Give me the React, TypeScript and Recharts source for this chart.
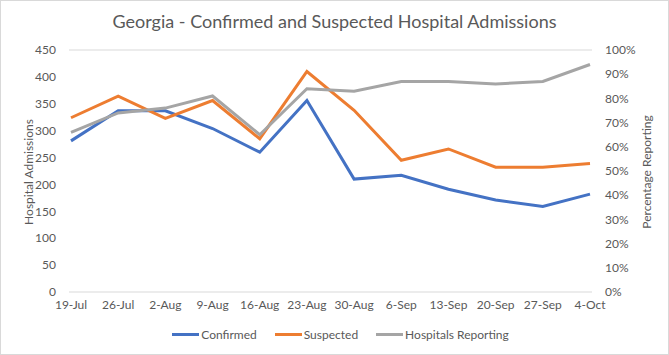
import React from 'react'
import { LineChart, Line, CartesianGrid, XAxis, YAxis, Legend } from 'recharts'

const WEEKS = ['19-Jul', '26-Jul', '2-Aug', '9-Aug', '16-Aug', '23-Aug', '30-Aug', '6-Sep', '13-Sep', '20-Sep', '27-Sep', '4-Oct']
const CONFIRMED = [281, 337, 337, 304, 260, 356, 210, 217, 191, 171, 159, 182]
const SUSPECTED = [324, 364, 323, 356, 285, 410, 338, 245, 266, 232, 232, 239]
const REPORTING = [66, 74, 76, 81, 65, 84, 83, 87, 87, 86, 87, 94]

const LEFT_TICKS = [0, 50, 100, 150, 200, 250, 300, 350, 400, 450]
const RIGHT_TICKS = [0, 10, 20, 30, 40, 50, 60, 70, 80, 90, 100]

const SERIES = [
  { key: 'confirmed', name: 'Confirmed', color: '#4472C4', axis: 'left' },
  { key: 'suspected', name: 'Suspected', color: '#ED7D31', axis: 'left' },
  { key: 'reporting', name: 'Hospitals Reporting', color: '#A5A5A5', axis: 'right' },
]

const data = WEEKS.map((week, i) => ({
  week,
  confirmed: CONFIRMED[i],
  suspected: SUSPECTED[i],
  reporting: REPORTING[i],
}))

const FONT = 'Lato, "Liberation Sans", sans-serif'
const TEXT = '#595959'
const TICK = { fill: TEXT, fontSize: 12, fontFamily: FONT }

const axisTitle = (text: string, x: number) => () => (
  <text
    x={x}
    y={171}
    transform={`rotate(-90 ${x} 171)`}
    textAnchor="middle"
    dominantBaseline="central"
    fill={TEXT}
    fontSize={12}
    fontFamily={FONT}
  >
    {text}
  </text>
)

const renderLegend = () => (
  <div
    style={{
      display: 'flex', justifyContent: 'center', gap: 18, paddingTop: 11, marginLeft: 10,
      fontFamily: FONT, fontSize: 12, color: TEXT,
    }}
  >
    {SERIES.map(s => (
      <div key={s.key} style={{ display: 'flex', alignItems: 'center' }}>
        <span style={{ display: 'inline-block', width: 27, height: 3, background: s.color, marginRight: 2 }} />
        {s.name}
      </div>
    ))}
  </div>
)

export default function App() {
  return (
    <div
      style={{
        position: 'absolute', left: 0, top: 0, width: 667, height: 353,
        border: '1px solid #d9d9d9', background: '#fff', overflow: 'hidden',
      }}
    >
      <div
        style={{
          position: 'absolute', top: 9, left: 0, width: '100%', textAlign: 'center',
          fontFamily: FONT, fontSize: 18, color: TEXT,
        }}
      >
        Georgia - Confirmed and Suspected Hospital Admissions
      </div>
      <LineChart
        width={667}
        height={353}
        data={data}
        margin={{ top: 49, right: 16, left: 18, bottom: 12 }}
      >
        <CartesianGrid vertical={false} stroke="#d9d9d9" />
        <XAxis
          dataKey="week"
          tick={TICK}
          axisLine={false}
          tickLine={false}
          height={24}
          interval={0}
          padding={{ left: 2, right: 2 }}
        />
        <YAxis
          yAxisId="left"
          domain={[0, 450]}
          ticks={LEFT_TICKS}
          tick={TICK}
          axisLine={false}
          tickLine={false}
          tickMargin={7}
          width={50}
          label={axisTitle('Hospital Admissions', 27)}
        />
        <YAxis
          yAxisId="right"
          orientation="right"
          domain={[0, 100]}
          ticks={RIGHT_TICKS}
          tickFormatter={(v: number) => `${v}%`}
          tick={{ ...TICK, textAnchor: 'start' }}
          axisLine={false}
          tickLine={false}
          tickMargin={7}
          width={60}
          label={axisTitle('Percentage Reporting', 645)}
        />
        <Legend verticalAlign="bottom" height={26} content={renderLegend} />
        {SERIES.map(s => (
          <Line
            key={s.key}
            yAxisId={s.axis}
            dataKey={s.key}
            name={s.name}
            stroke={s.color}
            strokeWidth={3}
            dot={false}
            type="linear"
            isAnimationActive={false}
          />
        ))}
      </LineChart>
    </div>
  )
}
